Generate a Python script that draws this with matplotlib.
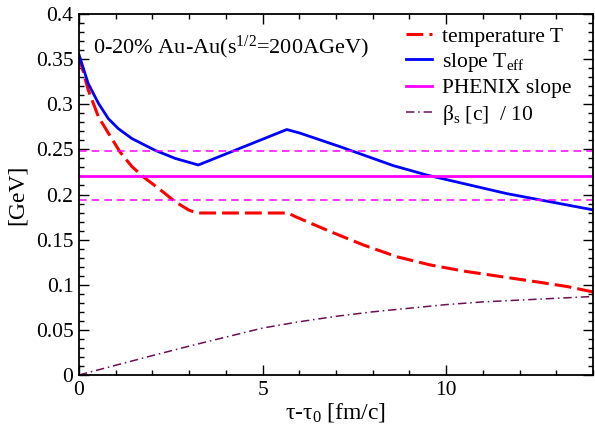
import matplotlib
matplotlib.use("Agg")
import matplotlib.pyplot as plt
from matplotlib.ticker import MultipleLocator

plt.rcParams['font.family'] = ['Liberation Serif', 'DejaVu Serif']
plt.rcParams['mathtext.fontset'] = 'custom'
plt.rcParams['mathtext.rm'] = 'Liberation Serif'
plt.rcParams['mathtext.it'] = 'Liberation Serif:italic'
plt.rcParams['mathtext.default'] = 'rm'

# Data
temp_x = [0.0, 0.25, 0.53, 0.80, 1.12, 1.44, 1.80, 2.16, 2.62, 2.98, 3.2, 5.7, 5.89, 6.84, 7.75,
          8.66, 9.56, 10.5, 11.5, 12.5, 13.3, 14.0]
temp_y = [0.353, 0.316, 0.286, 0.268, 0.247, 0.231, 0.218, 0.207, 0.192, 0.183, 0.1795, 0.1795, 0.1755,
          0.159, 0.144, 0.131, 0.122, 0.115, 0.109, 0.103, 0.098, 0.092]

slope_x = [0.0, 0.25, 0.53, 0.80, 1.07, 1.44, 2.07, 2.62, 3.25, 5.66, 6.02, 7.11, 8.56, 9.47, 11.65, 14.0]
slope_y = [0.355, 0.323, 0.301, 0.284, 0.273, 0.262, 0.249, 0.240, 0.2327, 0.272, 0.268, 0.253, 0.232,
           0.2216, 0.201, 0.183]

beta_x = [0, 1, 2, 3, 4, 5, 6, 7, 8, 9, 10, 11, 12, 13, 14]
beta_y = [0.0, 0.0108, 0.0215, 0.032, 0.042, 0.052, 0.059, 0.065, 0.070, 0.074, 0.078, 0.081, 0.083,
          0.085, 0.087]

phenix_slope = 0.221
phenix_err = 0.027

fig = plt.figure(figsize=(5.95, 4.32), dpi=100)
ax = fig.add_axes([79/595, 57/432, 514/595, 361/432])

ax.plot(temp_x, temp_y, color='red', lw=2.2, dashes=(5.5, 2.0), label='temperature T')
ax.plot(slope_x, slope_y, color='blue', lw=2.0, label=r'slope T$_{\rm eff}$')
ax.axhline(phenix_slope, color='magenta', lw=2.0, label='PHENIX slope')
ax.axhline(phenix_slope + phenix_err, color='magenta', lw=1.1, dashes=(5, 3.3))
ax.axhline(phenix_slope - phenix_err, color='magenta', lw=1.1, dashes=(5, 3.3))
ax.plot(beta_x, beta_y, color='#6b1050', lw=1.1, dashes=(5.5, 2.5, 1.0, 2.5),
        label=r'$\beta_{\rm s}$ [c]  / 10')

ax.set_xlim(0, 14)
ax.set_ylim(0, 0.4)
ax.xaxis.set_major_locator(MultipleLocator(5))
ax.xaxis.set_minor_locator(MultipleLocator(1))
ax.yaxis.set_major_locator(MultipleLocator(0.05))
ax.yaxis.set_minor_locator(MultipleLocator(0.01))
ax.yaxis.set_major_formatter(plt.FuncFormatter(lambda v, p: ('%g' % round(v, 3))))
ax.tick_params(which='both', direction='in', top=True, right=True, labelsize=15.5, width=1, pad=4)
ax.tick_params(which='major', length=7)
ax.tick_params(which='minor', length=3.5)
for s in ax.spines.values():
    s.set_linewidth(1.3)

ax.set_xlabel(r'$\tau$-$\tau_0$ [fm/c]', fontsize=17, labelpad=1)
ax.set_ylabel('[GeV]', fontsize=17, labelpad=6)

ax.text(0.38, 0.357, r'0-20% Au-Au(s$^{1/2}$=200AGeV)', fontsize=16, va='baseline', ha='left')

ax.legend(loc='upper left', bbox_to_anchor=(0.636, 0.965), frameon=False, fontsize=15.5,
          handlelength=1.2, handletextpad=0.47, labelspacing=0.2, borderaxespad=0.0, borderpad=0.0)

fig.savefig('out.png', dpi=100)
